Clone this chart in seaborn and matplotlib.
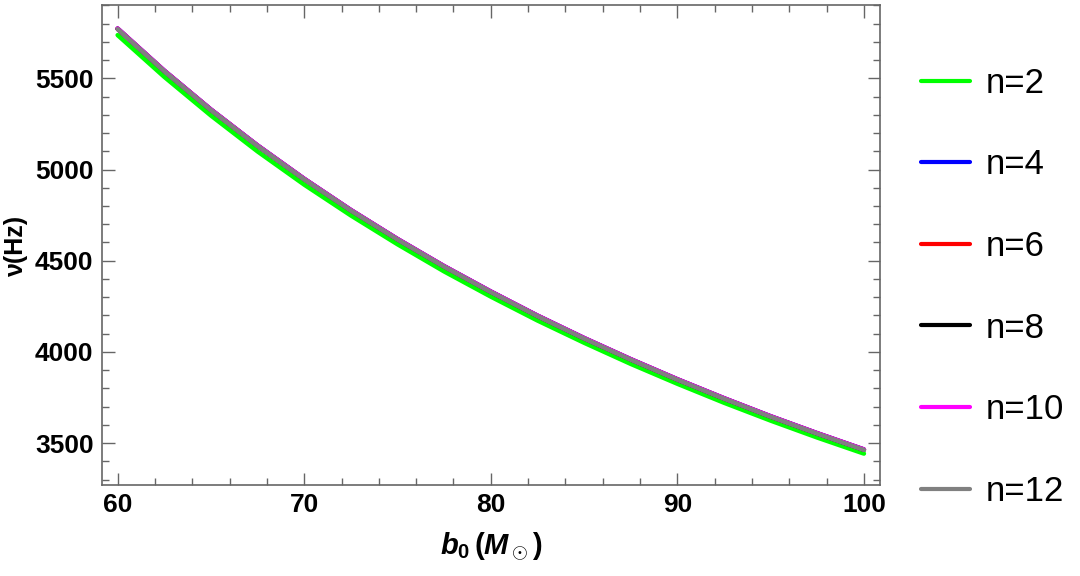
import pandas as pd
import seaborn as sns
import matplotlib.pyplot as plt
from matplotlib.ticker import MultipleLocator

# values, b0 in solar masses, nu in Hz
b0 = [60, 62.5, 65, 67.5, 70, 72.5, 75, 77.5, 80, 82.5, 85, 87.5, 90, 92.5, 95, 97.5, 100]
nu_n2 = [5737, 5508, 5296, 5099, 4917, 4748, 4590, 4441, 4303, 4172, 4050, 3934, 3825, 3721, 3623, 3530, 3442]
nu_n4 = [5773, 5542, 5329, 5132, 4949, 4778, 4619, 4470, 4331, 4199, 4076, 3960, 3850, 3746, 3647, 3554, 3465]
nu_n6 = [5772, 5541, 5328, 5131, 4948, 4777, 4618, 4469, 4330, 4198, 4075, 3959, 3849, 3745, 3646, 3553, 3464]
nu_n8 = [5771, 5540, 5327, 5130, 4947, 4776, 4617, 4468, 4329, 4197, 4074, 3958, 3848, 3744, 3645, 3552, 3463]
nu_n10 = [5773, 5542, 5329, 5132, 4949, 4778, 4619, 4470, 4331, 4199, 4076, 3960, 3850, 3746, 3647, 3554, 3465]
nu_n12 = [5770, 5539, 5326, 5129, 4946, 4775, 4616, 4467, 4328, 4196, 4073, 3957, 3847, 3743, 3644, 3551, 3462]

labels = ['n=2', 'n=4', 'n=6', 'n=8', 'n=10', 'n=12']
colors = ['#00ff00', '#0000ff', '#ff0000', '#000000', '#ff00ff', '#808080']

sns.set_style('ticks')
plt.rcParams['font.family'] = ['Liberation Sans', 'DejaVu Sans']
plt.rcParams['text.color'] = 'black'
plt.rcParams['axes.labelcolor'] = 'black'
plt.rcParams['xtick.labelcolor'] = 'black'
plt.rcParams['ytick.labelcolor'] = 'black'
plt.rcParams['mathtext.fontset'] = 'custom'
plt.rcParams['mathtext.it'] = 'Liberation Sans:bold:italic'
plt.rcParams['mathtext.rm'] = 'Liberation Sans:bold'
plt.rcParams['mathtext.bf'] = 'Liberation Sans:bold'

# long table for seaborn
rows = []
for lab, vals in zip(labels, [nu_n2, nu_n4, nu_n6, nu_n8, nu_n10, nu_n12]):
    for b, v in zip(b0, vals):
        rows.append({'b0': b, 'nu': v, 'n': lab})
df = pd.DataFrame(rows)

fig = plt.figure(figsize=(10.8, 5.76), dpi=100)
ax = fig.add_axes([0.0944, 0.158, 0.7204, 0.8333])

sns.lineplot(data=df, x='b0', y='nu', hue='n', hue_order=labels,
             palette=colors, linewidth=3.2, ax=ax, legend=False)

ax.set_xlim(59.16, 100.86)
ax.set_ylim(3270, 5902)
ax.xaxis.set_major_locator(MultipleLocator(10))
ax.xaxis.set_minor_locator(MultipleLocator(2))
ax.yaxis.set_major_locator(MultipleLocator(500))
ax.yaxis.set_minor_locator(MultipleLocator(100))
ax.tick_params(which='both', direction='in', top=True, right=True,
               color='#666666', width=1)
ax.tick_params(which='major', length=9)
ax.tick_params(which='minor', length=5)
ax.tick_params(axis='both', labelsize=19, pad=6)
for t in ax.get_xticklabels() + ax.get_yticklabels():
    t.set_fontweight('bold')
for s in ax.spines.values():
    s.set_color('#666666')
    s.set_linewidth(1.2)

ax.set_xlabel(r'$b_0\,(M_\odot)$', fontsize=21, labelpad=9)
ax.set_ylabel('ν(Hz)', fontsize=18, fontweight='bold', labelpad=5)

handles = [plt.Line2D([], [], color=c, linewidth=3) for c in colors]
ax.legend(handles, labels, loc='center left', bbox_to_anchor=(1.013, 0.412),
          frameon=False, fontsize=25, handlelength=1.4, handletextpad=0.45,
          labelspacing=1.4)

fig.savefig('out.png', dpi=100)
